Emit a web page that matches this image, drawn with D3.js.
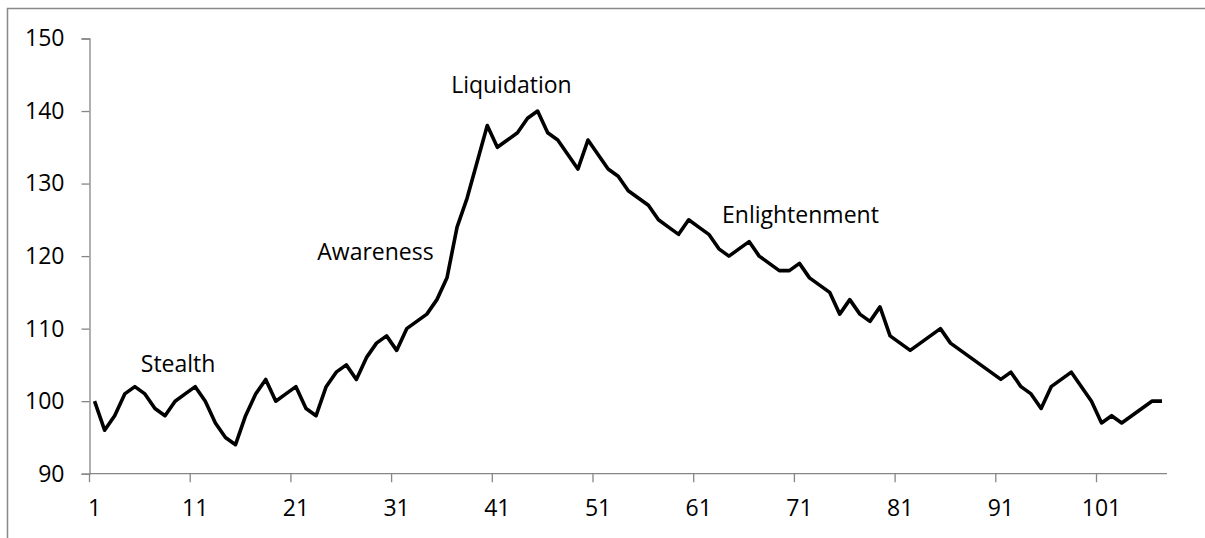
<!DOCTYPE html>
<html>
<head>
<meta charset="utf-8">
<script src="https://cdn.jsdelivr.net/npm/d3@7"></script>
<style>
  html, body { margin: 0; padding: 0; background: #fff; }
  svg { display: block; }
  text { font-family: "Open Sans", "Liberation Sans", sans-serif; fill: #000; }
</style>
</head>
<body>
<svg id="chart" width="1205" height="538"></svg>
<script>
// ---- data ----
const values = [
  100, 96, 98, 101, 102, 101, 99, 98, 100, 101,
  102, 100, 97, 95, 94, 98, 101, 103, 100, 101,
  102, 99, 98, 102, 104, 105, 103, 106, 108, 109,
  107, 110, 111, 112, 114, 117, 124, 128, 133, 138,
  135, 136, 137, 139, 140, 137, 136, 134, 132, 136,
  134, 132, 131, 129, 128, 127, 125, 124, 123, 125,
  124, 123, 121, 120, 121, 122, 120, 119, 118, 118,
  119, 117, 116, 115, 112, 114, 112, 111, 113, 109,
  108, 107, 108, 109, 110, 108, 107, 106, 105, 104,
  103, 104, 102, 101, 99, 102, 103, 104, 102, 100,
  97, 98, 97, 98, 99, 100, 100
];
const categories = values.map((v, i) => i + 1);
const xTickLabels = [1, 11, 21, 31, 41, 51, 61, 71, 81, 91, 101];
const yTicks = [90, 100, 110, 120, 130, 140, 150];
const phaseLabels = ["Stealth", "Awareness", "Liquidation", "Enlightenment"];
const phaseAt = [9.3, 28.9, 42.4, 71.1];         // category position of label centre
const phaseValue = [104.0, 119.5, 142.5, 124.5]; // value level of label baseline

// ---- layout ----
const svg = d3.select("#chart");
const mLeft = 89.5, mRight = 1167, mTop = 38.5, mBottom = 473.7;
const fs = "23px";

svg.append("rect")
  .attr("x", 7.5).attr("y", 8.5)
  .attr("width", 1300).attr("height", 700)
  .attr("fill", "none").attr("stroke", "#898989").attr("stroke-width", 1.5);

const x = d3.scaleBand().domain(categories).range([mLeft, mRight]).paddingInner(0).paddingOuter(0);
const xPos = d3.scaleLinear().domain([0.5, categories.length + 0.5]).range([mLeft, mRight]);
const y = d3.scaleLinear().domain([90, 150]).range([mBottom, mTop]);

// y axis
const yAxis = d3.axisLeft(y).tickValues(yTicks).tickSize(8).tickPadding(17);
const gy = svg.append("g").attr("transform", `translate(${mLeft},0)`).call(yAxis);
gy.select(".domain").attr("stroke", "#868686").attr("stroke-width", 1.3);
gy.selectAll(".tick line").attr("stroke", "#868686").attr("stroke-width", 1.3);
gy.selectAll(".tick text").style("font-size", fs).attr("fill", "#000")
  .style("font-family", "'Open Sans', sans-serif");

// x axis: ticks between categories (at band starts), labels centered on categories
const gx = svg.append("g").attr("transform", `translate(0,${mBottom})`);
gx.append("line").attr("x1", mLeft).attr("x2", mRight).attr("y1", 0).attr("y2", 0)
  .attr("stroke", "#868686").attr("stroke-width", 1.3);
gx.selectAll("line.tk").data(xTickLabels).enter().append("line").attr("class", "tk")
  .attr("x1", d => x(d)).attr("x2", d => x(d)).attr("y1", 0).attr("y2", 8.5)
  .attr("stroke", "#868686").attr("stroke-width", 1.3);
gx.selectAll("text.tl").data(xTickLabels).enter().append("text").attr("class", "tl")
  .attr("x", d => x(d) + x.bandwidth() / 2).attr("y", 42)
  .attr("text-anchor", "middle").style("font-size", fs)
  .text(d => d);

// line
const line = d3.line()
  .x((d, i) => x(categories[i]) + x.bandwidth() / 2)
  .y(d => y(d));
svg.append("path").datum(values)
  .attr("d", line).attr("fill", "none").attr("stroke", "#000")
  .attr("stroke-width", 3.6).attr("stroke-linejoin", "round").attr("stroke-linecap", "butt");

// phase labels
svg.selectAll("text.phase").data(phaseLabels).enter().append("text").attr("class", "phase")
  .attr("x", (d, i) => xPos(phaseAt[i]))
  .attr("y", (d, i) => y(phaseValue[i]))
  .attr("text-anchor", "middle").style("font-size", fs)
  .text(d => d);
</script>
</body>
</html>
